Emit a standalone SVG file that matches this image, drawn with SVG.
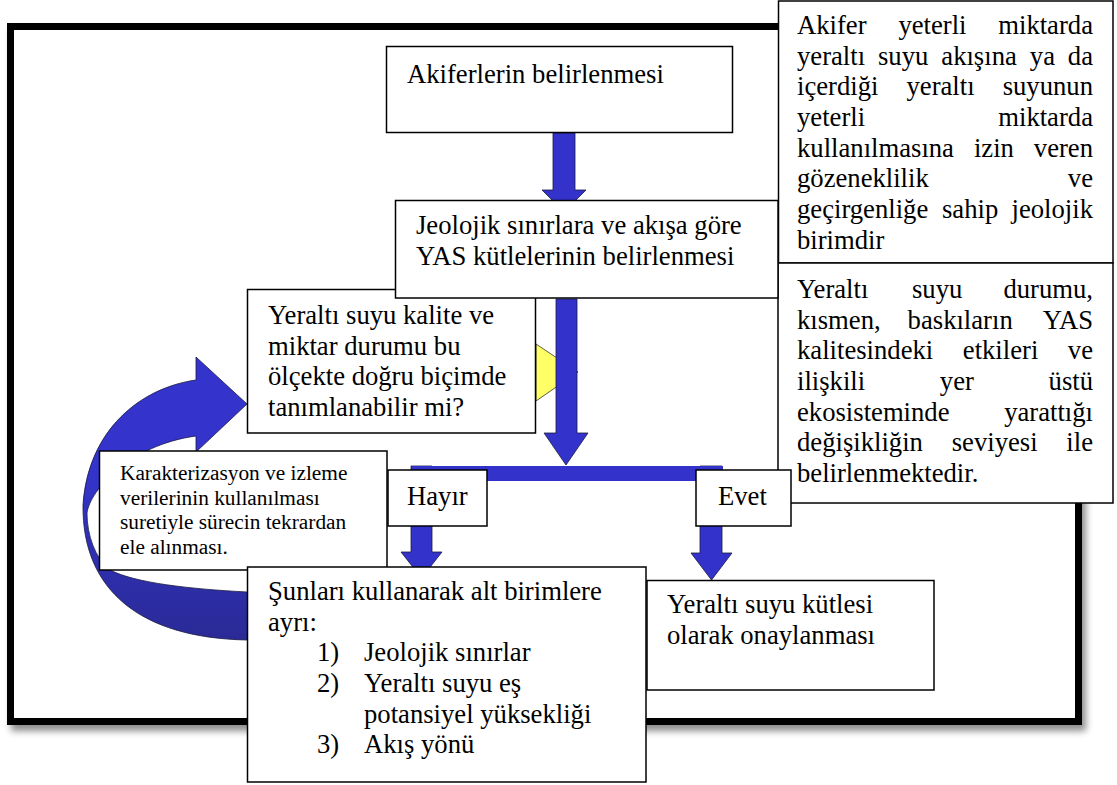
<svg xmlns="http://www.w3.org/2000/svg" width="1117" height="785" viewBox="0 0 1117 785" font-family="'Liberation Serif', Tinos, 'Times New Roman', Times, 'Noto Serif', 'DejaVu Serif', serif">
<defs>
<filter id="shadow" x="-5%" y="-5%" width="115%" height="115%">
<feDropShadow dx="4" dy="6" stdDeviation="3.5" flood-color="#000" flood-opacity="0.45"/>
</filter>
<linearGradient id="curveGrad" gradientUnits="userSpaceOnUse" x1="0" y1="470" x2="0" y2="640">
<stop offset="0" stop-color="#3434CC"/>
<stop offset="1" stop-color="#2A2A96"/>
</linearGradient>
</defs>
<style>
.box{fill:#fff;stroke:#000;stroke-width:1.5}
.arrow{fill:#3333CC;stroke:#1a1a40;stroke-width:0.8}
.t{font-size:26.67px;fill:#000}
.s{font-size:21.33px;fill:#000}
.e{text-anchor:end}
</style>

<g id="frame">
<rect x="10.5" y="26.5" width="1068" height="695" fill="#fff" stroke="#000" stroke-width="7" filter="url(#shadow)"/>
</g>

<g id="connectors">
<path id="loop-arrow" d="M196,380 C140,388 88,430 83,505 C82,590 140,638 247,640 L262,641 L262,592 L247,592 C190,589 135,583 110,570 C95,558 87,535 87,513 C90,490 130,445 196,436 L196,452 L247,404 L196,357 Z" fill="url(#curveGrad)" stroke="#1a1a40" stroke-width="0.8"/>
<path class="arrow" d="M553,133 L575,133 L575,190 L586,190 L564,212 L542,190 L553,190 Z"/>
<path d="M536,344 L578,372 L536,401 Z" fill="#FFFF66" stroke="#333" stroke-width="0.8"/>
<path class="arrow" d="M556,299 L577,299 L577,433 L588,433 L566,465 L544,433 L556,433 Z"/>
<path class="arrow" d="M411,466 L432,466 L432,552 L442,552 L421.5,578 L401,552 L411,552 Z"/>
<path class="arrow" d="M700,466 L722,466 L722,553 L732,553 L711.5,580 L691,553 L700,553 Z"/>
<rect x="412" y="466" width="311" height="15" fill="#3333CC"/>
</g>

<g id="def-akifer">
<rect class="box" x="778.5" y="1" width="334.5" height="262"/>
<text class="t" x="797" y="34">Akifer</text>
<text class="t" x="898.4" y="34">yeterli</text>
<text class="t e" x="1093" y="34">miktarda</text>
<text class="t" x="797" y="64.7">yeraltı</text>
<text class="t" x="878" y="64.7">suyu</text>
<text class="t" x="941.3" y="64.7">akışına</text>
<text class="t" x="1029.8" y="64.7">ya</text>
<text class="t e" x="1093" y="64.7">da</text>
<text class="t" x="797" y="95.3">içerdiği</text>
<text class="t" x="906.5" y="95.3">yeraltı</text>
<text class="t e" x="1093" y="95.3">suyunun</text>
<text class="t" x="797" y="126">yeterli</text>
<text class="t e" x="1093" y="126">miktarda</text>
<text class="t" x="797" y="156.7">kullanılmasına</text>
<text class="t" x="973.9" y="156.7">izin</text>
<text class="t e" x="1093" y="156.7">veren</text>
<text class="t" x="797" y="187.3">gözeneklilik</text>
<text class="t e" x="1093" y="187.3">ve</text>
<text class="t" x="797" y="218">geçirgenliğe</text>
<text class="t" x="942" y="218">sahip</text>
<text class="t e" x="1093" y="218">jeolojik</text>
<text class="t" x="797" y="248.7">birimdir</text>
</g>

<g id="def-durum">
<rect class="box" x="778" y="263" width="335" height="240"/>
<text class="t" x="797" y="298">Yeraltı</text>
<text class="t" x="912" y="298">suyu</text>
<text class="t e" x="1093" y="298">durumu,</text>
<text class="t" x="797" y="328.7">kısmen,</text>
<text class="t" x="907.6" y="328.7">baskıların</text>
<text class="t e" x="1093" y="328.7">YAS</text>
<text class="t" x="797" y="359.3">kalitesindeki</text>
<text class="t" x="962.8" y="359.3">etkileri</text>
<text class="t e" x="1093" y="359.3">ve</text>
<text class="t" x="797" y="390">ilişkili</text>
<text class="t" x="939.8" y="390">yer</text>
<text class="t e" x="1093" y="390">üstü</text>
<text class="t" x="797" y="420.7">ekosisteminde</text>
<text class="t e" x="1093" y="420.7">yarattığı</text>
<text class="t" x="797" y="451.3">değişikliğin</text>
<text class="t" x="951.7" y="451.3">seviyesi</text>
<text class="t e" x="1093" y="451.3">ile</text>
<text class="t" x="797" y="482">belirlenmektedir.</text>
</g>

<g id="akiferler">
<rect class="box" x="386.5" y="46.5" width="346" height="86"/>
<text class="t" x="407" y="83">Akiferlerin belirlenmesi</text>
</g>

<g id="kalite">
<rect class="box" x="247.5" y="289.5" width="288" height="143.5"/>
<text class="t" x="268" y="324">Yeraltı suyu kalite ve</text>
<text class="t" x="268" y="354.7">miktar durumu bu</text>
<text class="t" x="268" y="385.3">ölçekte doğru biçimde</text>
<text class="t" x="268" y="416">tanımlanabilir mi?</text>
</g>

<g id="jeolojik">
<rect class="box" x="395.5" y="200.5" width="382.5" height="97.5"/>
<text class="t" x="416" y="234">Jeolojik sınırlara ve akışa göre</text>
<text class="t" x="416" y="264.7">YAS kütlelerinin belirlenmesi</text>
</g>

<g id="karakterizasyon">
<rect class="box" x="99.5" y="451" width="287.5" height="119"/>
<text class="s" x="120" y="480">Karakterizasyon ve izleme</text>
<text class="s" x="120" y="504.5">verilerinin kullanılması</text>
<text class="s" x="120" y="529">suretiyle sürecin tekrardan</text>
<text class="s" x="120" y="553.5">ele alınması.</text>
</g>

<g id="hayir">
<rect class="box" x="388" y="470" width="99" height="56"/>
<text class="t" x="407" y="505">Hayır</text>
</g>

<g id="evet">
<rect class="box" x="696" y="470" width="95" height="56"/>
<text class="t" x="718" y="505">Evet</text>
</g>

<g id="alt-birimler">
<rect class="box" x="247.5" y="567" width="398.5" height="215"/>
<text class="t" x="268" y="600">Şunları kullanarak alt birimlere</text>
<text class="t" x="268" y="630.7">ayrı:</text>
<text class="t" x="317" y="661.3">1)</text>
<text class="t" x="364" y="661.3">Jeolojik sınırlar</text>
<text class="t" x="317" y="692">2)</text>
<text class="t" x="364" y="692">Yeraltı suyu eş</text>
<text class="t" x="364" y="722.7">potansiyel yüksekliği</text>
<text class="t" x="317" y="753.3">3)</text>
<text class="t" x="364" y="753.3">Akış yönü</text>
</g>

<g id="onay">
<rect class="box" x="647" y="580.5" width="287" height="109.5"/>
<text class="t" x="667" y="613">Yeraltı suyu kütlesi</text>
<text class="t" x="667" y="643.7">olarak onaylanması</text>
</g>
</svg>
